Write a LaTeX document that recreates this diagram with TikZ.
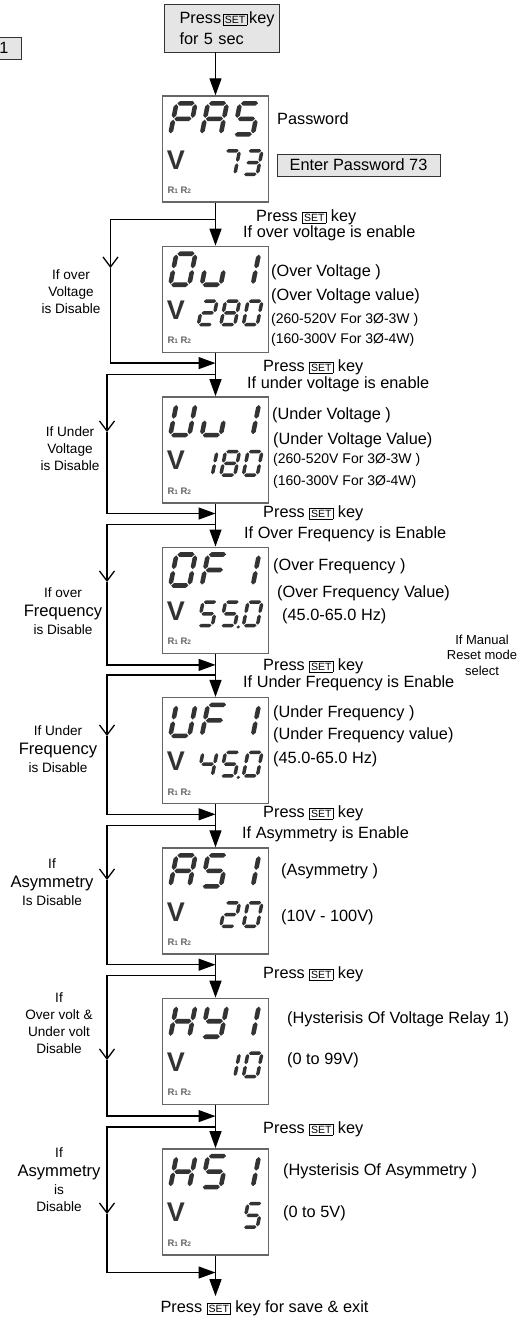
\documentclass[tikz,border=0pt]{standalone}
\usepackage{fontspec}
\setmainfont{Liberation Sans}
\usetikzlibrary{arrows.meta, positioning, calc}

\newcommand{\txtmain}{\fontsize{16.3}{19.5}\selectfont}
\newcommand{\txtlab}{\fontsize{13.6}{17}\selectfont}
\newcommand{\txtrng}{\fontsize{14}{16.5}\selectfont}
\newcommand{\txtbig}{\fontsize{16.6}{19}\selectfont}
\newcommand{\setkey}{{\setlength{\fboxsep}{1.2pt}\setlength{\fboxrule}{0.6pt}\fbox{\fontsize{10.5}{10.5}\selectfont SET}}}

% one pointed segment, horizontal (left end, right end) or vertical (lower end, upper end)
\newcommand{\hseg}[2]{\fill[seg] ([xshift=\segg]#1) -- ([xshift=\segg+\segt, yshift=\segt]#1)
  -- ([xshift=-\segg-\segt, yshift=\segt]#2) -- ([xshift=-\segg]#2)
  -- ([xshift=-\segg-\segt, yshift=-\segt]#2) -- ([xshift=\segg+\segt, yshift=-\segt]#1) -- cycle;}
\newcommand{\vseg}[2]{\fill[seg] ([yshift=\segg]#1) -- ([yshift=\segg+\segt, xshift=\segt]#1)
  -- ([yshift=-\segg-\segt, xshift=\segt]#2) -- ([yshift=-\segg]#2)
  -- ([yshift=-\segg-\segt, xshift=-\segt]#2) -- ([yshift=\segg+\segt, xshift=-\segt]#1) -- cycle;}

% seven segment pieces (unit cell, y up)
\pgfkeys{/lcdseg/.cd,
  a/.code={\hseg{0,1}{1,1}},
  b/.code={\vseg{1,.5}{1,1}},
  c/.code={\vseg{1,0}{1,.5}},
  d/.code={\hseg{0,0}{1,0}},
  e/.code={\vseg{0,0}{0,.5}},
  f/.code={\vseg{0,.5}{0,1}},
  g/.code={\hseg{0,.5}{1,.5}},
  p/.code={\fill[seg] (1,0) ++(3.8pt,-1.5pt) circle[radius=1.7pt];},
  n/.code={}}

\newcommand{\bigdig}[2]{%
  \begin{scope}[shift={#1}, x=19pt, y=31pt, xslant=.2, seg/.style={fill=black!80}]
    \def\segg{0.9pt}\def\segt{2.3pt}
    \foreach \s in {#2} {\pgfkeys{/lcdseg/\s}}
  \end{scope}}
\newcommand{\smalldig}[2]{%
  \begin{scope}[shift={#1}, x=14pt, y=23.5pt, xslant=.2, seg/.style={fill=black!80}]
    \def\segg{0.8pt}\def\segt{1.75pt}
    \foreach \s in {#2} {\pgfkeys{/lcdseg/\s}}
  \end{scope}}
% #1 display node, #2-#4 upper characters, #5-#7 lower characters
\newcommand{\lcdpanel}[7]{%
  \begin{scope}[shift={(#1.north west)}]
    \bigdig{(8.5,39)}{#2}
    \bigdig{(40,39)}{#3}
    \bigdig{(72,39)}{#4}
    \smalldig{(36.5,79)}{#5}
    \smalldig{(59,79)}{#6}
    \smalldig{(81.5,79)}{#7}
    \node[volt] at (14,64.5) {V};
    \node[relay] at (17.5,95) {R{\fontsize{6.5}{6.5}\selectfont 1} R{\fontsize{6.5}{6.5}\selectfont 2}};
  \end{scope}}

\begin{document}
\begin{tikzpicture}[x=1pt, y=-1pt,
    disp/.style={draw=black!60, line width=1.4pt, minimum width=106pt,
                 minimum height=106pt, inner sep=0pt},
    ebox/.style={draw=black!80, fill=black!10, line width=0.9pt, font=\txtmain},
    startbox/.style={ebox, minimum height=48pt, text width=108pt, inner xsep=3.5pt,
                     align=left, font=\fontsize{16.3}{21}\selectfont},
    txt/.style={font=\txtmain, anchor=west, inner sep=0pt},
    rng/.style={font=\txtrng, anchor=west, inner sep=0pt},
    lab/.style={font=\txtlab, align=center, inner sep=0pt},
    volt/.style={font=\fontsize{27}{27}\selectfont\bfseries, text=black!80, inner sep=0pt},
    relay/.style={font=\fontsize{9.5}{9.5}\selectfont\bfseries, text=black!60, inner sep=0pt},
    flow/.style={line width=1.3pt, -{Triangle[length=17pt,width=12pt]}},
    chev/.style={line width=1.3pt, -{Straight Barb[length=10pt,width=15pt]}}
  ]
  \useasboundingbox (0,0) rectangle (519,1318);

  % boxes at the top
  \node[ebox, anchor=east, minimum height=22pt, text width=30pt, align=right,
        inner xsep=13pt] (mode) at (22,48) {1};
  \node[startbox] (start) at (221.5,28)
    {\hspace*{12pt}Press\kern2pt\setkey\kern2pt key\\\hspace*{12pt}for 5 sec};

  % displays
  \node[disp] (pas) at (215.5,149) {};
  \node[disp, below=43pt of pas] (ov) {};
  \node[disp, below=43pt of ov] (uv) {};
  \node[disp, below=43pt of uv] (of) {};
  \node[disp, below=43pt of of] (uf) {};
  \node[disp, below=43pt of uf] (as) {};
  \node[disp, below=43pt of as] (hy) {};
  \node[disp, below=43pt of hy] (hs) {};

  \lcdpanel{pas}{a,b,e,f,g}{a,b,c,e,f,g}{a,c,d,f,g}{n}{a,b,c}{a,b,c,d,g}
  \lcdpanel{ov}{a,b,c,d,e,f}{c,d,e}{b,c}{a,b,d,e,g}{a,b,c,d,e,f,g}{a,b,c,d,e,f}
  \lcdpanel{uv}{b,c,d,e,f}{c,d,e}{b,c}{b,c}{a,b,c,d,e,f,g}{a,b,c,d,e,f}
  \lcdpanel{of}{a,b,c,d,e,f}{a,e,f,g}{b,c}{a,c,d,f,g}{a,c,d,f,g,p}{a,b,c,d,e,f}
  \lcdpanel{uf}{b,c,d,e,f}{a,e,f,g}{b,c}{b,c,f,g}{a,c,d,f,g,p}{a,b,c,d,e,f}
  \lcdpanel{as}{a,b,c,e,f,g}{a,c,d,f,g}{b,c}{n}{a,b,d,e,g}{a,b,c,d,e,f}
  \lcdpanel{hy}{b,c,e,f,g}{b,c,d,f,g}{b,c}{n}{b,c}{a,b,c,d,e,f}
  \lcdpanel{hs}{b,c,e,f,g}{a,c,d,f,g}{b,c}{n}{n}{a,c,d,f,g}

  % texts beside the displays
  \node[txt] (pw) at (277,119) {Password};
  \node[ebox, minimum width=163pt, minimum height=22pt] (enter) at (358.5,165) {Enter Password 73};

  \node[txt] (k1) at (256,217) {Press \setkey\ key};
  \node[txt] (c1) at (243,233) {If over voltage is enable};
  \node[txt] at (271,272) {(Over Voltage )};
  \node[txt] at (271,296) {(Over Voltage value)};
  \node[rng] at (271,320) {(260-520V For 3Ø-3W )};
  \node[rng] at (271,340) {(160-300V For 3Ø-4W)};

  \node[txt] (k2) at (263,367) {Press \setkey\ key};
  \node[txt] (c2) at (247,384) {If under voltage is enable};
  \node[txt] at (272,415) {(Under Voltage )};
  \node[txt] at (273,440) {(Under Voltage Value)};
  \node[rng] at (273,460) {(260-520V For 3Ø-3W )};
  \node[rng] at (273,482) {(160-300V For 3Ø-4W)};

  \node[txt] (k3) at (263,513) {Press \setkey\ key};
  \node[txt] (c3) at (244,534) {If Over Frequency is Enable};
  \node[txt] at (273,566) {(Over Frequency )};
  \node[txt] at (277,593) {(Over Frequency Value)};
  \node[txt] at (282,616) {(45.0-65.0 Hz)};

  \node[lab, font=\fontsize{13}{15.5}\selectfont] (man) at (482,655) {If Manual\\Reset mode\\select};

  \node[txt] (k4) at (263,666) {Press \setkey\ key};
  \node[txt] (c4) at (243,683) {If Under Frequency is Enable};
  \node[txt] at (273,713) {(Under Frequency )};
  \node[txt] at (273,735) {(Under Frequency value)};
  \node[txt] at (273,759) {(45.0-65.0 Hz)};

  \node[txt] (k5) at (263,813) {Press \setkey\ key};
  \node[txt] (c5) at (242,834) {If Asymmetry is Enable};
  \node[txt] at (281,871) {(Asymmetry )};
  \node[txt] at (281,917) {(10V - 100V)};

  \node[txt] (k6) at (263,974) {Press \setkey\ key};
  \node[txt] at (287,1019) {(Hysterisis Of Voltage Relay 1)};
  \node[txt] at (287,1060) {(0 to 99V)};

  \node[txt] (k7) at (263,1129) {Press \setkey\ key};
  \node[txt] at (283,1171) {(Hysterisis Of Asymmetry )};
  \node[txt] at (283,1213) {(0 to 5V)};

  \node[font=\txtmain, inner xsep=0pt, inner ysep=4pt] (done) at (264.5,1308)
    {Press \setkey\ key for save \& exit};

  % labels of the bypass lines
  \node[lab] (d1) at (71,292) {If over\\Voltage\\is Disable};
  \node[lab] (d2) at (70,449) {If Under\\Voltage\\is Disable};
  \node[lab] (d3) at (63,611) {If over\\[2pt]{\txtbig Frequency}\\[1pt]is Disable};
  \node[lab] (d4) at (58,749) {If Under\\[2pt]{\txtbig Frequency}\\[1pt]is Disable};
  \node[lab] (d5) at (52,882) {If\\[2pt]{\txtbig Asymmetry}\\[1pt]Is Disable};
  \node[lab] (d6) at (59,1023) {If\\Over volt \&\\Under volt\\Disable};
  \node[lab] (d7) at (59,1180) {If\\[2pt]{\txtbig Asymmetry}\\[1pt]is\\Disable};

  % main flow
  \draw[flow] (start.south -| pas.north) -- (pas.north);
  \draw[flow] (pas.south) -- (ov.north);
  \draw[flow] (ov.south) -- (uv.north);
  \draw[flow] (uv.south) -- (of.north);
  \draw[flow] (of.south) -- (uf.north);
  \draw[flow] (uf.south) -- (as.north);
  \draw[flow] (as.south) -- (hy.north);
  \draw[flow] (hy.south) -- (hs.north);
  \draw[flow] (hs.south) -- (hs.south |- done.north);

  % split and join points on the main line
  \coordinate (s1) at ($(pas.south)+(0,17)$);
  \coordinate (j1) at ($(ov.south)+(0,10)$);
  \coordinate (s2) at ($(ov.south)+(0,21.5)$);
  \coordinate (j2) at ($(uv.south)+(0,10)$);
  \coordinate (s3) at ($(uv.south)+(0,21)$);
  \coordinate (j3) at ($(of.south)+(0,11)$);
  \coordinate (s4) at ($(of.south)+(0,21)$);
  \coordinate (j4) at ($(uf.south)+(0,10)$);
  \coordinate (s5) at ($(uf.south)+(0,21)$);
  \coordinate (j5) at ($(as.south)+(0,10)$);
  \coordinate (s6) at ($(as.south)+(0,21)$);
  \coordinate (j6) at ($(hy.south)+(0,11)$);
  \coordinate (s7) at ($(hy.south)+(0,22)$);
  \coordinate (j7) at ($(hs.south)+(0,17)$);

  % bypass lines
  \coordinate (v1) at (110.5,268);
  \coordinate (v2) at (107,432);
  \coordinate (v3) at (107,582);
  \coordinate (v4) at (107,736);
  \coordinate (v5) at (107,880);
  \coordinate (v6) at (107,1060);
  \coordinate (v7) at (107,1214);
  \foreach \i in {1,...,7} {
    \draw[chev] (s\i) -| (v\i);
    \draw[flow] (v\i) |- (j\i);
  }
\end{tikzpicture}
\end{document}
